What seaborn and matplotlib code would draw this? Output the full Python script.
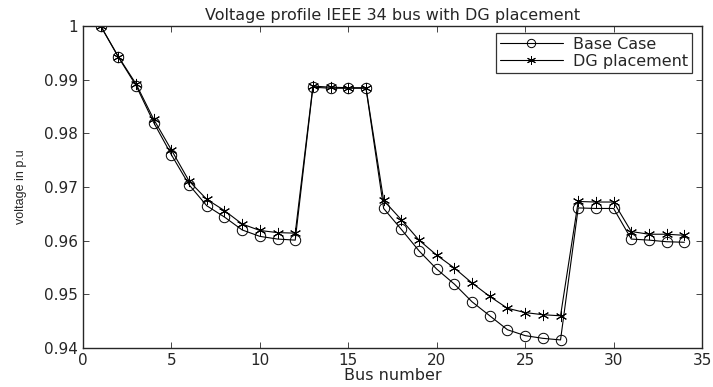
import numpy as np
import pandas as pd
import matplotlib
matplotlib.use("Agg")
import matplotlib.pyplot as plt
import seaborn as sns

# ---- data ----
bus = list(range(1, 35))
base_case = [1.0, 0.9942, 0.9889, 0.9820, 0.9760, 0.9704, 0.9665, 0.9644, 0.9620, 0.9608,
             0.9603, 0.9601, 0.9886, 0.9884, 0.9884, 0.9884, 0.9660, 0.9621, 0.9581, 0.9547,
             0.9519, 0.9486, 0.9460, 0.9434, 0.9423, 0.9418, 0.9415, 0.9661, 0.9660, 0.9660,
             0.9603, 0.9601, 0.9598, 0.9597]
dg_placement = [1.0, 0.9943, 0.9892, 0.9826, 0.9769, 0.9711, 0.9677, 0.9656, 0.9631, 0.9619,
                0.9615, 0.9614, 0.9888, 0.9886, 0.9885, 0.9885, 0.9675, 0.9639, 0.9601, 0.9573,
                0.9549, 0.9521, 0.9496, 0.9474, 0.9466, 0.9462, 0.9460, 0.9673, 0.9672, 0.9672,
                0.9617, 0.9612, 0.9612, 0.9610]
xticks = [0, 5, 10, 15, 20, 25, 30, 35]
yticks = [0.94, 0.95, 0.96, 0.97, 0.98, 0.99, 1.0]
ytick_labels = ["0.94", "0.95", "0.96", "0.97", "0.98", "0.99", "1"]

sns.set_style("ticks")
plt.rcParams["font.family"] = ["DejaVu Sans"]

fig = plt.figure(figsize=(7.13, 3.87), dpi=100)
ax = fig.add_axes([0.1164, 0.1008, 0.8682, 0.8320])

# base case: open circles
sns.lineplot(x=bus, y=base_case, color="black", linewidth=0.8, marker="o",
             markersize=7.5, markerfacecolor="none", markeredgecolor="black",
             markeredgewidth=0.7, label="Base Case", ax=ax)
# DG placement: asterisks
sns.lineplot(x=bus, y=dg_placement, color="black", linewidth=0.8, marker=(6, 2, 0),
             markersize=8, markeredgecolor="black", markeredgewidth=0.7,
             label="DG placement", ax=ax)

ax.set_xlim(0, 35)
ax.set_ylim(0.94, 1.0)
ax.set_xticks(xticks)
ax.set_yticks(yticks)
ax.set_yticklabels(ytick_labels)
ax.tick_params(direction="in", top=True, right=True, labelsize=11, length=4, width=0.6)
for s in ax.spines.values():
    s.set_linewidth(1.0)
    s.set_visible(True)

ax.set_title("Voltage profile IEEE 34 bus with DG placement", fontsize=11.5, pad=4)
ax.set_xlabel("Bus number", fontsize=11.5, labelpad=0)
ax.set_ylabel("voltage in p.u", fontsize=9,
              family=["Liberation Sans Narrow", "Liberation Sans", "DejaVu Sans"])
ax.yaxis.set_label_coords(-0.09, 0.5)

# legend box, matlab style
leg = ax.legend(loc="upper right", bbox_to_anchor=(0.984, 0.979), borderaxespad=0,
                fontsize=11.5, frameon=True, fancybox=False, edgecolor="black",
                handlelength=4.0, handletextpad=0.6, borderpad=0.25, labelspacing=0.12,
                markerscale=0.8)
leg.get_frame().set_linewidth(0.9)

fig.savefig("out.png", dpi=100)
